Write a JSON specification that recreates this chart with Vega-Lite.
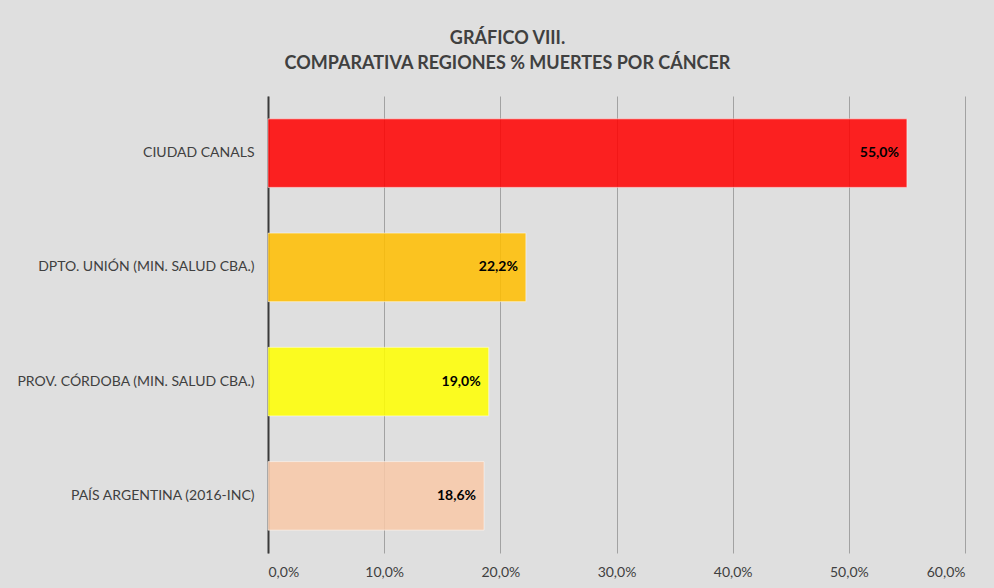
{
  "$schema": "https://vega.github.io/schema/vega-lite/v6.json",
  "width": 697,
  "height": 457,
  "autosize": {"type": "none"},
  "padding": {"left": 268, "top": 96, "right": 29, "bottom": 35},
  "background": "#dfdfdf",
  "config": {
    "locale": {"number": {"decimal": ",", "thousands": ".", "grouping": [3], "currency": ["", " €"]}},
    "view": {"stroke": null},
    "font": "Lato"
  },
  "title": {
    "text": ["GRÁFICO VIII.", "COMPARATIVA REGIONES % MUERTES POR CÁNCER"],
    "font": "Lato",
    "fontSize": 18,
    "fontWeight": "bold",
    "color": "#404040",
    "lineHeight": 25,
    "anchor": "middle",
    "frame": "group",
    "dx": -109,
    "offset": 23
  },
  "data": {
    "values": [
      {"region": "CIUDAD CANALS", "pct": 0.55},
      {"region": "DPTO. UNIÓN (MIN. SALUD CBA.)", "pct": 0.222},
      {"region": "PROV. CÓRDOBA (MIN. SALUD CBA.)", "pct": 0.19},
      {"region": "PAÍS ARGENTINA (2016-INC)", "pct": 0.186}
    ]
  },
  "encoding": {
    "y": {
      "field": "region",
      "type": "nominal",
      "sort": null,
      "title": null,
      "scale": {"paddingInner": 0.4, "paddingOuter": 0.2},
      "axis": {
        "domainColor": "#3a3a3a",
        "domainWidth": 2,
        "ticks": false,
        "labelPadding": 14,
        "labelFont": "Lato",
        "labelFontSize": 14,
        "labelColor": "#404040",
        "labelLimit": 300
      }
    },
    "x": {
      "field": "pct",
      "type": "quantitative",
      "title": null,
      "scale": {"domain": [0, 0.6], "nice": false},
      "axis": {
        "values": [0, 0.1, 0.2, 0.3, 0.4, 0.5, 0.6],
        "format": ".1%",
        "domain": false,
        "ticks": false,
        "grid": true,
        "gridColor": "#a2a2a2",
        "gridWidth": 1,
        "labelPadding": 12,
        "labelFont": "Lato",
        "labelFontSize": 14,
        "labelColor": "#404040"
      }
    }
  },
  "layer": [
    {
      "mark": {"type": "bar", "fillOpacity": 0.86, "stroke": "#ffffff", "strokeOpacity": 0.5, "strokeWidth": 1},
      "encoding": {
        "color": {
          "field": "region",
          "type": "nominal",
          "legend": null,
          "scale": {
            "domain": ["CIUDAD CANALS", "DPTO. UNIÓN (MIN. SALUD CBA.)", "PROV. CÓRDOBA (MIN. SALUD CBA.)", "PAÍS ARGENTINA (2016-INC)"],
            "range": ["#ff0000", "#ffbe00", "#ffff00", "#f8c8a8"]
          }
        }
      }
    },
    {
      "mark": {"type": "text", "align": "right", "dx": -8, "font": "Lato", "fontSize": 14, "fontWeight": "bold", "color": "#000000"},
      "encoding": {
        "text": {"field": "pct", "type": "quantitative", "format": ".1%"}
      }
    }
  ]
}
